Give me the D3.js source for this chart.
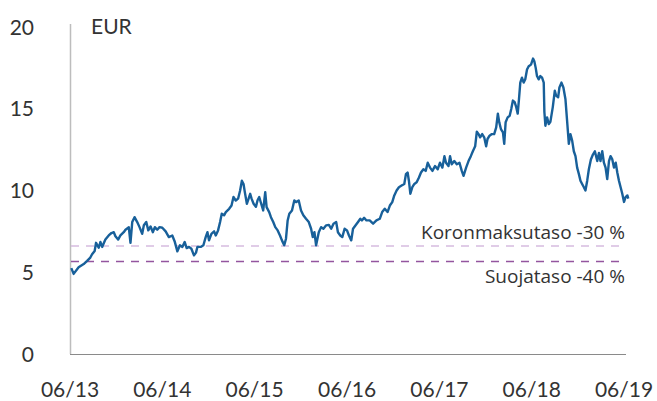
<!DOCTYPE html>
<html>
<head>
<meta charset="utf-8">
<script src="https://cdn.jsdelivr.net/npm/d3@7"></script>
<style>
  html, body { margin: 0; padding: 0; background: #fff; }
  svg { display: block; }
  text { font-family: Lato, "Open Sans", sans-serif; fill: #333; }
  text.lvl { font-family: "Open Sans", Lato, sans-serif; }
</style>
</head>
<body>
<svg id="chart" width="657" height="401"></svg>
<script>
// ---- data (decimal years, EUR) ----
const dates = [
2013.428,2013.453,2013.507,2013.562,2013.599,2013.634,2013.653,2013.681,2013.696,2013.725,
2013.743,2013.762,2013.797,2013.833,2013.863,2013.888,2013.906,2013.935,2013.960,2013.996,
2014.015,2014.051,2014.069,2014.088,2014.113,2014.142,2014.167,2014.196,2014.214,2014.240,
2014.262,2014.287,2014.312,2014.333,2014.359,2014.384,2014.414,2014.450,2014.485,2014.522,
2014.547,2014.577,2014.605,2014.631,2014.656,2014.678,2014.703,2014.729,2014.757,2014.779,
2014.794,2014.830,2014.859,2014.884,2014.903,2014.920,2014.946,2014.975,2014.993,2015.018,
2015.040,2015.058,2015.083,2015.102,2015.138,2015.164,2015.185,2015.210,2015.235,2015.257,
2015.276,2015.294,2015.308,2015.330,2015.349,2015.366,2015.381,2015.403,2015.428,2015.446,
2015.464,2015.482,2015.507,2015.529,2015.544,2015.572,2015.591,2015.616,2015.638,2015.664,
2015.689,2015.710,2015.735,2015.754,2015.772,2015.790,2015.819,2015.844,2015.863,2015.892,
2015.917,2015.942,2015.971,2016.001,2016.026,2016.044,2016.062,2016.080,2016.109,2016.134,
2016.159,2016.189,2016.218,2016.243,2016.268,2016.297,2016.316,2016.341,2016.363,2016.388,
2016.414,2016.435,2016.460,2016.479,2016.507,2016.533,2016.558,2016.575,2016.599,2016.624,
2016.659,2016.696,2016.732,2016.768,2016.794,2016.822,2016.852,2016.877,2016.903,2016.925,
2016.950,2016.975,2017.004,2017.033,2017.051,2017.069,2017.083,2017.099,2017.120,2017.142,
2017.167,2017.192,2017.214,2017.240,2017.265,2017.287,2017.312,2017.338,2017.366,2017.395,
2017.420,2017.446,2017.468,2017.485,2017.512,2017.529,2017.547,2017.575,2017.602,2017.631,
2017.656,2017.675,2017.703,2017.729,2017.754,2017.776,2017.801,2017.819,2017.838,2017.855,
2017.877,2017.899,2017.920,2017.935,2017.957,2017.982,2018.007,2018.029,2018.047,2018.062,
2018.080,2018.102,2018.116,2018.131,2018.153,2018.175,2018.192,2018.210,2018.229,2018.246,
2018.262,2018.276,2018.290,2018.308,2018.327,2018.344,2018.363,2018.381,2018.406,2018.428,
2018.442,2018.457,2018.471,2018.490,2018.507,2018.526,2018.544,2018.551,2018.562,2018.580,
2018.599,2018.616,2018.642,2018.664,2018.678,2018.700,2018.714,2018.736,2018.757,2018.779,
2018.797,2018.816,2018.833,2018.852,2018.870,2018.888,2018.906,2018.925,2018.942,2018.960,
2018.979,2018.996,2019.015,2019.033,2019.055,2019.077,2019.098,2019.124,2019.142,2019.159,
2019.178,2019.196,2019.214,2019.232,2019.251,2019.268,2019.287,2019.305,2019.324,2019.341,
2019.359,2019.377,2019.395,2019.414,2019.431,2019.450,2019.460
];
const prices = [
5.25,4.9,5.3,5.5,5.7,5.9,6.1,6.3,6.8,6.5,
6.85,6.55,7.0,7.25,7.4,7.45,7.2,7.0,7.25,7.45,
7.6,7.75,6.8,8.07,8.37,8.07,7.76,7.35,7.87,8.07,
7.56,7.8,7.45,7.76,7.6,7.76,7.72,7.5,7.15,7.25,
6.9,6.28,6.65,6.55,6.85,6.48,6.55,6.44,6.03,6.2,
6.55,6.55,6.65,7.15,7.45,6.95,7.35,7.5,7.25,7.56,
8.07,8.58,8.48,8.68,8.88,9.08,9.6,9.39,9.5,10.0,
10.6,10.4,9.9,9.19,9.5,9.8,9.5,9.19,9.0,9.4,
9.6,9.25,8.78,9.9,8.98,8.68,8.37,8.07,7.76,7.56,
7.25,6.95,6.65,7.05,8.17,8.58,8.78,9.39,9.29,9.39,
8.78,8.48,8.27,8.07,7.66,7.15,7.45,6.65,7.45,7.76,
7.66,7.87,7.9,7.66,7.97,8.07,7.45,7.25,7.15,7.66,
7.56,7.25,6.95,7.66,7.87,8.07,8.27,8.17,8.33,8.17,
8.17,7.97,8.17,8.27,8.68,8.88,8.68,9.08,9.29,9.7,
10.0,10.2,10.3,10.4,11.0,11.1,10.6,9.8,10.2,10.4,
10.5,10.8,11.1,11.3,11.2,11.7,11.4,11.2,11.5,11.3,
11.7,11.4,12.1,11.7,11.5,12.1,11.6,11.8,11.6,11.7,
11.2,10.9,11.4,11.8,12.1,12.4,12.7,13.6,13.45,13.25,
13.45,13.25,12.7,13.15,13.35,13.45,13.45,13.86,14.7,14.17,
13.76,13.56,12.85,14.17,14.47,14.57,14.98,15.5,15.4,15.1,
14.7,15.6,16.6,16.9,16.6,16.8,17.4,17.6,17.7,18.07,
17.9,17.5,17.0,16.8,17.0,16.9,16.6,14.8,13.96,14.47,
14.06,14.2,15.1,16.1,15.8,15.7,16.3,16.6,16.3,15.6,
14.27,12.85,13.45,13.05,12.4,12.1,11.4,11.0,10.6,10.4,
10.2,10.0,10.6,11.3,11.9,12.2,12.4,11.8,12.3,11.8,
12.4,11.7,11.4,10.7,11.8,12.1,11.9,11.4,11.7,11.1,
10.6,10.2,9.8,9.3,9.6,9.7,9.5
];
const yTicks = [0, 5, 10, 15, 20];
const xTickDates = ["2013-06-01","2014-06-01","2015-06-01","2016-06-01","2017-06-01","2018-06-01","2019-06-01"];
const levelValues = [6.61, 5.66];
const levelLabels = ["Koronmaksutaso -30 %", "Suojataso -40 %"];
const unitLabel = "EUR";

// ---- helpers ----
function decYearToDate(t) {
  const y = Math.floor(t);
  const s = new Date(y, 0, 1), e = new Date(y + 1, 0, 1);
  return new Date(+s + (t - y) * (e - s));
}
const parse = d3.timeParse("%Y-%m-%d");
const series = dates.map((t, i) => ({ date: decYearToDate(t), value: prices[i] }));
const tickDates = xTickDates.map(parse);

const svg = d3.select("#chart");
const x = d3.scaleTime().domain([tickDates[0], tickDates[tickDates.length - 1]]).range([70, 624]);
const y = d3.scaleLinear().domain([0, 20]).range([354, 27]);
const xEnd = 626;

// left axis line
svg.append("line")
  .attr("x1", 70.5).attr("x2", 70.5)
  .attr("y1", y(20) - 3).attr("y2", y(0))
  .attr("stroke", "#bdbdbd").attr("stroke-width", 1.5);

// bottom axis line
svg.append("line")
  .attr("x1", 70).attr("x2", xEnd)
  .attr("y1", y(0) + 0.5).attr("y2", y(0) + 0.5)
  .attr("stroke", "#8a8a8a").attr("stroke-width", 1);

// y tick labels
svg.append("g").selectAll("text").data(yTicks).join("text")
  .attr("x", 34).attr("y", d => y(d))
  .attr("dy", "0.36em")
  .attr("text-anchor", "end")
  .style("font-size", "21px")
  .text(d => d);

// x tick labels
const fmt = d3.timeFormat("%m/%y");
svg.append("g").selectAll("text").data(tickDates).join("text")
  .attr("x", d => x(d)).attr("y", 397)
  .attr("text-anchor", "middle")
  .style("font-size", "21px")
  .text(d => fmt(d));

// unit label
svg.append("text")
  .attr("x", 91).attr("y", 34)
  .style("font-size", "21px")
  .text(unitLabel);

// level lines
const levelColors = ["#d6bcdf", "#94559f"];
svg.append("g").selectAll("line").data(levelValues).join("line")
  .attr("x1", 71).attr("x2", xEnd)
  .attr("y1", d => y(d)).attr("y2", d => y(d))
  .attr("stroke", (d, i) => levelColors[i])
  .attr("stroke-width", 1.5)
  .attr("stroke-dasharray", "8,7");

// price line
const line = d3.line().x(d => x(d.date)).y(d => y(d.value)).curve(d3.curveLinear);
svg.append("path")
  .datum(series)
  .attr("fill", "none")
  .attr("stroke", "#18609a")
  .attr("stroke-width", 2.4)
  .attr("stroke-linejoin", "round")
  .attr("d", line);

// level labels
svg.append("text").attr("class", "lvl")
  .attr("x", 625).attr("y", y(levelValues[0]) - 7)
  .attr("text-anchor", "end")
  .style("font-size", "19px")
  .text(levelLabels[0]);
svg.append("text").attr("class", "lvl")
  .attr("x", 625).attr("y", y(levelValues[1]) + 22)
  .attr("text-anchor", "end")
  .style("font-size", "19px")
  .text(levelLabels[1]);
</script>
</body>
</html>
